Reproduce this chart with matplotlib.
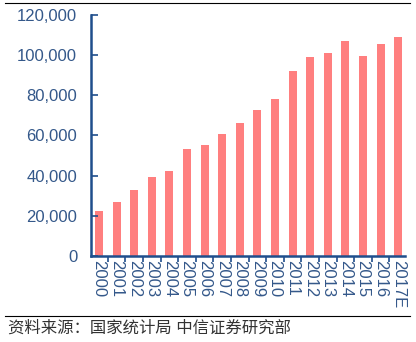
import matplotlib.pyplot as plt
from matplotlib.ticker import FuncFormatter, FixedLocator

plt.rcParams['font.family'] = ['Liberation Sans', 'Noto Sans CJK SC', 'DejaVu Sans']

years = ["2000", "2001", "2002", "2003", "2004", "2005", "2006", "2007", "2008",
         "2009", "2010", "2011", "2012", "2013", "2014", "2015", "2016", "2017E"]
values = [22600, 26900, 32800, 39300, 42300, 53200, 55200, 60500, 66200,
          72500, 78100, 92000, 98900, 100800, 107100, 99500, 105600, 108800]
source = "资料来源：国家统计局 中信证券研究部"

axis_color = "#1F4E8C"
label_color = "#34588A"
bar_color = "#FF7F7F"

fig = plt.figure(figsize=(4.16, 3.42), dpi=100)
ax = fig.add_axes([0.219, 0.2515, 0.755, 0.705])

x = list(range(len(years)))
ax.bar(x, values, width=0.45, color=bar_color)

ax.set_ylim(0, 120000)
ax.set_xlim(-0.45, len(years) - 0.6)
ax.set_yticks(range(0, 120001, 20000))
ax.yaxis.set_major_formatter(FuncFormatter(lambda v, p: f"{int(v):,}"))
ax.tick_params(axis="y", direction="in", length=5, width=1.2, color=axis_color,
               labelcolor=label_color, labelsize=12, pad=10)

ax.set_xticks(x)
ax.set_xticklabels(years, rotation=-90, fontsize=12, color=label_color)
ax.tick_params(axis="x", length=0, pad=3)
ax.xaxis.set_minor_locator(FixedLocator([i + 0.5 for i in range(len(years) - 1)]))
ax.tick_params(axis="x", which="minor", direction="out", length=4, width=1.2, color=axis_color)

for s in ["top", "right"]:
    ax.spines[s].set_visible(False)
for s in ["left", "bottom"]:
    ax.spines[s].set_color(axis_color)
    ax.spines[s].set_linewidth(1.8)

fig.add_artist(plt.Line2D([0.012, 0.985], [0.991, 0.991], color="black", lw=0.8))
fig.add_artist(plt.Line2D([0.012, 0.985], [0.076, 0.076], color="black", lw=0.8))
fig.text(0.02, 0.04, source, fontsize=11.8, color="#333333", va="center", ha="left")

fig.savefig("out.png", dpi=100)
